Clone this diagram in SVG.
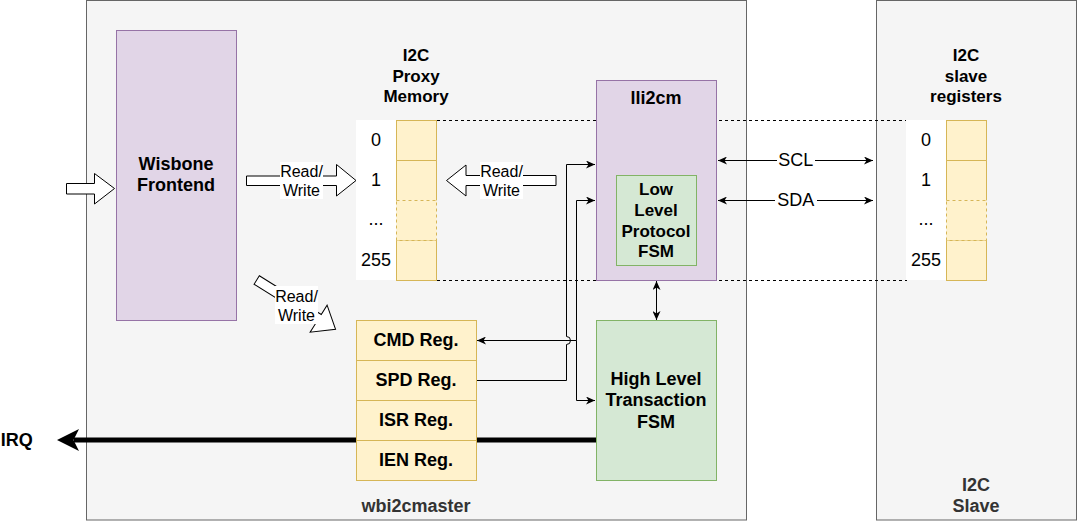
<svg xmlns="http://www.w3.org/2000/svg" width="1077" height="521" viewBox="0 0 1077 521">
<style>
text{font-family:"Liberation Sans",Arial,sans-serif;text-anchor:middle;fill:#000}
.b{font-weight:bold}
.t18{font-size:18px}
.t17{font-size:17px}
.t16{font-size:16px}
.grey{fill:#333333}
.cont{fill:#f5f5f5;stroke:#666666;stroke-width:1}
.purple{fill:#e1d5e7;stroke:#9673a6;stroke-width:1}
.green{fill:#d5e8d4;stroke:#82b366;stroke-width:1}
.yellow{fill:#fff2cc;stroke:#d6b656;stroke-width:1}
.ydash{fill:#fff2cc;stroke:#d6b656;stroke-width:1;stroke-dasharray:3 3}
.yfill{fill:#fff2cc;stroke:none}
.yline{fill:none;stroke:#d6b656;stroke-width:1}
.numcol{fill:#ffffff;stroke:none}
.wire{fill:none;stroke:#000;stroke-width:1}
.dash{fill:none;stroke:#000;stroke-width:1;stroke-dasharray:3 3}
.block{fill:#ffffff;stroke:#000;stroke-width:1}
.lbl{fill:#ffffff;stroke:none}
</style>
<defs>
<marker id="ah" viewBox="0 0 10 8" refX="9" refY="4" markerWidth="10" markerHeight="8" markerUnits="userSpaceOnUse" orient="auto-start-reverse">
<path d="M0,0 L9,4 L0,8 L2.5,4 Z" fill="#000"/>
</marker>
</defs>

<g id="wbi2cmaster">
<rect class="cont" x="86.5" y="0.5" width="660" height="519.5"/>
<text class="b t18 grey" x="416" y="512.4">wbi2cmaster</text>
</g>

<g id="i2c-slave">
<rect class="cont" x="876.5" y="0.5" width="200" height="519.5"/>
<text class="b t18 grey" x="976" y="491.4">I2C</text>
<text class="b t18 grey" x="976" y="512.4">Slave</text>
</g>

<g id="memory-span">
<line class="dash" x1="437" y1="120.5" x2="907" y2="120.5"/>
<line class="dash" x1="437" y1="280.5" x2="907" y2="280.5"/>
</g>

<g id="wisbone-frontend">
<rect class="purple" x="116.5" y="30.5" width="120" height="290"/>
<text class="b t18" x="176" y="169.7">Wisbone</text>
<text class="b t18" x="176" y="191.4">Frontend</text>
</g>

<g id="proxy-memory">
<text class="b t17" x="416" y="61">I2C</text>
<text class="b t17" x="416" y="81.5">Proxy</text>
<text class="b t17" x="416" y="102">Memory</text>
<rect class="numcol" x="356" y="120" width="40" height="160"/>
<text class="t18" x="376" y="146.4">0</text>
<text class="t18" x="376" y="186.4">1</text>
<text class="t18" x="376" y="225">...</text>
<text class="t18" x="376" y="266.4">255</text>
<rect class="yellow" x="396.5" y="120.5" width="40" height="40"/>
<rect class="yfill" x="396.5" y="160.5" width="40" height="40"/>
<path class="yline" d="M396.5,200.5 V160.5 H436.5 V200.5"/>
<rect class="yellow" x="396.5" y="240.5" width="40" height="40"/>
<rect class="ydash" x="396.5" y="200.5" width="40" height="40"/>
</g>

<g id="slave-registers">
<text class="b t17" x="966" y="61">I2C</text>
<text class="b t17" x="966" y="81.5">slave</text>
<text class="b t17" x="966" y="102">registers</text>
<rect class="numcol" x="906" y="120" width="40" height="160"/>
<text class="t18" x="926" y="146.4">0</text>
<text class="t18" x="926" y="186.4">1</text>
<text class="t18" x="926" y="225">...</text>
<text class="t18" x="926" y="266.4">255</text>
<rect class="yellow" x="946.5" y="120.5" width="40" height="40"/>
<rect class="yfill" x="946.5" y="160.5" width="40" height="40"/>
<path class="yline" d="M946.5,200.5 V160.5 H986.5 V200.5"/>
<rect class="yellow" x="946.5" y="240.5" width="40" height="40"/>
<rect class="ydash" x="946.5" y="200.5" width="40" height="40"/>
</g>

<g id="lli2cm">
<rect class="purple" x="596.5" y="80.5" width="120" height="200"/>
<text class="b t18" x="656" y="103.5">lli2cm</text>
</g>

<g id="low-level-fsm">
<rect class="green" x="616.5" y="175.5" width="80" height="90"/>
<text class="b t17" x="656" y="195.4">Low</text>
<text class="b t17" x="656" y="216">Level</text>
<text class="b t17" x="656" y="236.6">Protocol</text>
<text class="b t17" x="656" y="256.8">FSM</text>
</g>

<g id="connectors">
<path d="M57,440 L79,429 L73.5,440 L79,451 Z" fill="#000"/>
<line x1="596" y1="440" x2="74" y2="440" stroke="#000" stroke-width="5"/>
<line class="wire" x1="718" y1="160.5" x2="873" y2="160.5" marker-start="url(#ah)" marker-end="url(#ah)"/>
<line class="wire" x1="718" y1="200.5" x2="873" y2="200.5" marker-start="url(#ah)" marker-end="url(#ah)"/>
<line class="wire" x1="656.5" y1="281" x2="656.5" y2="320" marker-start="url(#ah)" marker-end="url(#ah)"/>
<path class="wire" d="M476,380.5 H566.5 V344.5 A4,4 0 0 0 566.5,336.5 V164.5 H595" marker-end="url(#ah)"/>
<path class="wire" d="M576.5,340.5 V200.5 H595" marker-end="url(#ah)"/>
<path class="wire" d="M576.5,340.5 V400.5 H595" marker-end="url(#ah)"/>
<path class="wire" d="M576.5,340.5 H477" marker-end="url(#ah)"/>
<polygon class="block" points="66.5,183.5 94.5,183.5 94.5,173.5 114.5,188.5 94.5,204 94.5,194 66.5,194"/>
<polygon class="block" points="246.5,176 336.5,176 336.5,164.5 356,180.5 336.5,196 336.5,185.5 246.5,185.5"/>
<rect class="lbl" x="280" y="162" width="43" height="37"/>
<text class="t16" x="301.5" y="176.7">Read/</text>
<text class="t16" x="301.5" y="195.7">Write</text>
<polygon class="block" points="556,175.5 466,175.5 466,165 446.5,180.5 466,196 466,185.5 556,185.5"/>
<rect class="lbl" x="480" y="162" width="43" height="37"/>
<text class="t16" x="501.5" y="176.7">Read/</text>
<text class="t16" x="501.5" y="195.7">Write</text>
<polygon class="block" transform="translate(256.7,280) rotate(32)" points="0,-5 73,-5 73,-16 93,0 73,16 73,5 0,5"/>
<rect class="lbl" x="275" y="286" width="43" height="38"/>
<text class="t16" x="296.5" y="301.7">Read/</text>
<text class="t16" x="296.5" y="320.7">Write</text>
<rect class="lbl" x="777" y="150" width="38" height="20"/>
<text class="t18" x="795.7" y="166.4">SCL</text>
<rect class="lbl" x="775" y="190" width="42" height="20"/>
<text class="t18" x="795.7" y="206.4">SDA</text>
</g>

<g id="registers">
<rect class="yellow" x="356.5" y="320.5" width="120" height="40"/>
<text class="b t18" x="416" y="346.4">CMD Reg.</text>
<rect class="yellow" x="356.5" y="360.5" width="120" height="40"/>
<text class="b t18" x="416" y="386.4">SPD Reg.</text>
<rect class="yellow" x="356.5" y="400.5" width="120" height="40"/>
<text class="b t18" x="416" y="426.4">ISR Reg.</text>
<rect class="yellow" x="356.5" y="440.5" width="120" height="40"/>
<text class="b t18" x="416" y="466.4">IEN Reg.</text>
</g>

<g id="high-level-fsm">
<rect class="green" x="596.5" y="320.5" width="120" height="160"/>
<text class="b t18" x="656" y="384.7">High Level</text>
<text class="b t18" x="656" y="406.2">Transaction</text>
<text class="b t18" x="656" y="427.5">FSM</text>
</g>

<g id="irq">
<text class="b t18" x="16.7" y="446.4">IRQ</text>
</g>
</svg>
